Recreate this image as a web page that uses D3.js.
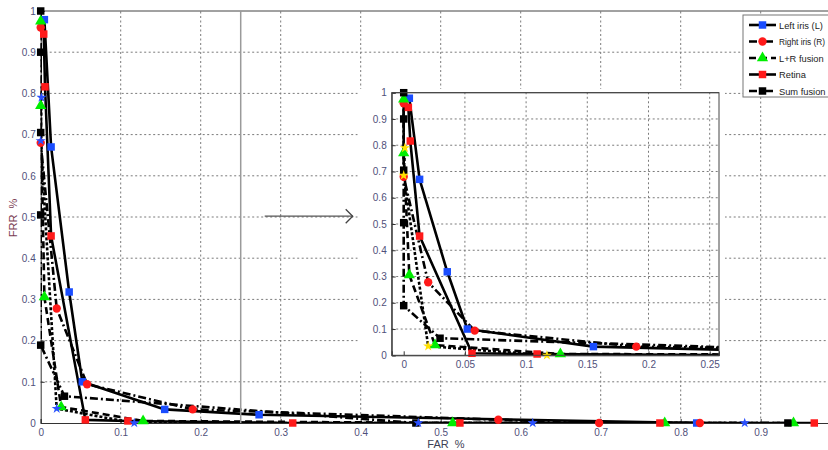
<!DOCTYPE html>
<html>
<head>
<meta charset="utf-8">
<script src="https://cdn.jsdelivr.net/npm/d3@7"></script>
<style>
  body { margin: 0; background: #fff; }
  svg { display: block; font-family: "Liberation Sans", Arial, sans-serif; }
  .tick text { fill: #50507a; }
</style>
</head>
<body>
<svg width="828" height="450"></svg>
<script>
// ---------------------------------------------------------------------------
// Data (FAR, FRR)

const leftIris   = [[0.0046, 0.979], [0.013, 0.67], [0.0356, 0.318], [0.052, 0.10],
                    [0.155, 0.033], [0.273, 0.02], [0.82, 0]];
const rightIris  = [[0.0, 0.96], [0.0, 0.68], [0.02, 0.278], [0.058, 0.094],
                    [0.19, 0.033], [0.572, 0.008], [0.698, 0], [0.824, 0]];
const lrFusion   = [[0.0, 0.975], [0.0, 0.77], [0.0046, 0.306], [0.0256, 0.039],
                    [0.128, 0.005], [0.515, 0], [0.78, 0], [0.941, 0]];
const retina     = [[0.0038, 0.944], [0.0054, 0.816], [0.013, 0.454], [0.0558, 0.0076],
                    [0.109, 0.005], [0.315, 0], [0.524, 0], [0.774, 0], [0.967, 0]];
const sumFusion  = [[0.0, 1.0], [0.0, 0.9], [0.0, 0.705], [0.0, 0.505], [0.0, 0.189],
                    [0.0297, 0.065], [0.469, 0], [0.934, 0]];
// unlabelled extra curve (star markers, not in the legend)
const extraCurve = [[0.001, 0.79], [0.0, 0.685], [0.02, 0.035], [0.117, 0],
                    [0.472, 0], [0.615, 0], [0.88, 0]];

const mainTicksX  = [0, 0.1, 0.2, 0.3, 0.4, 0.5, 0.6, 0.7, 0.8, 0.9];
const mainTicksY  = [0, 0.1, 0.2, 0.3, 0.4, 0.5, 0.6, 0.7, 0.8, 0.9, 1];
const insetTicksX = [0, 0.05, 0.1, 0.15, 0.2, 0.25];
const insetTicksY = [0, 0.1, 0.2, 0.3, 0.4, 0.5, 0.6, 0.7, 0.8, 0.9, 1];

// stray vertical line and arrow pointing at the zoom box (main-axis units)
const markLineX = 0.25;
const arrowPts  = [[0.28, 0.502], [0.39, 0.502]];

const series = [
  {name: "Left iris (L)",  data: leftIris,   marker: d3.symbolSquare,   color: "#1a4dff", dash: null},
  {name: "Right iris (R)", data: rightIris,  marker: d3.symbolCircle,   color: "#ff1a1a", dash: "8,3,2,3"},
  {name: "L+R fusion",     data: lrFusion,   marker: d3.symbolTriangle, color: "#00ee00", dash: "7,4"},
  {name: "Retina",         data: retina,     marker: d3.symbolSquare,   color: "#ff1a1a", dash: null},
  {name: "Sum fusion",     data: sumFusion,  marker: d3.symbolSquare,   color: "#000000", dash: "8,3,2,3"},
  {name: null,             data: extraCurve, marker: d3.symbolStar,     color: "#2a50ff", dash: "3,2", insetColor: "#ffe000"}
];

function symSize(s) {
  if (s === d3.symbolSquare) return 56;
  if (s === d3.symbolCircle) return 55;
  if (s === d3.symbolTriangle) return 55;
  return 32;
}

const svg = d3.select("svg");

// ---------------------------------------------------------------------------
// Panel drawing

function gridAndAxes(g, x, y, ticksX, ticksY, gridX, gridY) {
  const [x0, x1] = x.range(), [y0, y1] = y.range();

  g.append("g").selectAll("line").data(gridX).enter().append("line")
    .attr("x1", d => x(d)).attr("x2", d => x(d)).attr("y1", y0).attr("y2", y1)
    .attr("stroke", "#7a7a7a").attr("stroke-dasharray", "2,2.5");
  g.append("g").selectAll("line").data(gridY).enter().append("line")
    .attr("y1", d => y(d)).attr("y2", d => y(d)).attr("x1", x0).attr("x2", x1)
    .attr("stroke", "#7a7a7a").attr("stroke-dasharray", "2,2.5");

  const ax = g.append("g").attr("transform", `translate(0,${y0})`)
    .call(d3.axisBottom(x).tickValues(ticksX).tickFormat(d3.format("")).tickSize(-4).tickPadding(6));
  const ay = g.append("g").attr("transform", `translate(${x0},0)`)
    .call(d3.axisLeft(y).tickValues(ticksY).tickFormat(d3.format("")).tickSize(-4).tickPadding(5));
  [ax, ay].forEach(a => {
    a.select(".domain").attr("stroke", "#333");
    a.selectAll(".tick line").attr("stroke", "#333");
    a.selectAll(".tick text").attr("font-size", 10);
  });

  g.append("line").attr("x1", x0).attr("x2", x1).attr("y1", y1).attr("y2", y1)
    .attr("stroke", "#444");
}

function drawSeries(g, x, y, clipId, inset) {
  const lines = g.append("g").attr("clip-path", `url(#${clipId})`);
  const line = d3.line().x(d => x(d[0])).y(d => y(d[1]));
  const [dx0, dx1] = x.domain();

  series.forEach(s => {
    lines.append("path")
      .attr("d", line(s.data))
      .attr("fill", "none")
      .attr("stroke", "#000")
      .attr("stroke-width", 2.6)
      .attr("stroke-linejoin", "round")
      .attr("stroke-dasharray", s.dash);
  });

  series.forEach(s => {
    const col = inset && s.insetColor ? s.insetColor : s.color;
    g.append("g").selectAll("path")
      .data(s.data.filter(d => d[0] >= dx0 && d[0] <= dx1))
      .enter().append("path")
      .attr("transform", d => `translate(${x(d[0])},${y(d[1])})`)
      .attr("d", d3.symbol().type(s.marker).size(symSize(s.marker)))
      .attr("fill", col);
  });
}

// ---------------------------------------------------------------------------
// Main plot

const xMain = d3.scaleLinear().domain([0, 1]).range([40.7, 840.7]);
const yMain = d3.scaleLinear().domain([0, 1]).range([423, 11]);

svg.append("defs").append("clipPath").attr("id", "clipMain")
  .append("rect").attr("x", 40.7).attr("y", 11).attr("width", 800).attr("height", 412);

const main = svg.append("g");
gridAndAxes(main, xMain, yMain, mainTicksX, mainTicksY,
            mainTicksX.slice(1), mainTicksY.slice(1, -1));
drawSeries(main, xMain, yMain, "clipMain", false);

main.append("line")
  .attr("x1", xMain(markLineX)).attr("x2", xMain(markLineX))
  .attr("y1", yMain(1)).attr("y2", yMain(0))
  .attr("stroke", "#9a9a9a").attr("stroke-width", 1.5);

const aStart = arrowPts[0], aEnd = arrowPts[1];
const ax1 = xMain(aEnd[0]), ay1 = yMain(aEnd[1]);
main.append("line")
  .attr("x1", xMain(aStart[0])).attr("y1", yMain(aStart[1]))
  .attr("x2", ax1).attr("y2", ay1)
  .attr("stroke", "#555").attr("stroke-width", 1.2);
main.append("path")
  .attr("d", `M${ax1 - 7},${ay1 - 7}L${ax1},${ay1}L${ax1 - 7},${ay1 + 7}`)
  .attr("fill", "none").attr("stroke", "#444").attr("stroke-width", 1.3);

svg.append("text")
  .attr("transform", "translate(17,218) rotate(-90)")
  .attr("text-anchor", "middle")
  .attr("font-size", 11)
  .attr("fill", "#7a3c52")
  .style("white-space", "pre")
  .text("FRR  %");

svg.append("text")
  .attr("x", 446).attr("y", 448)
  .attr("text-anchor", "middle")
  .attr("font-size", 11)
  .attr("fill", "#404055")
  .style("white-space", "pre")
  .text("FAR  %");

// ---------------------------------------------------------------------------
// Zoomed inset

const box = {left: 391.7, right: 719, top: 92.7, bottom: 355.3};
const xIn = d3.scaleLinear().domain([-0.0098, 0.2576]).range([box.left, box.right]);
const yIn = d3.scaleLinear().domain([0, 1]).range([box.bottom, box.top]);

svg.select("defs").append("clipPath").attr("id", "clipInset")
  .append("rect").attr("x", box.left).attr("y", box.top)
  .attr("width", box.right - box.left).attr("height", box.bottom - box.top);

const inset = svg.append("g");
inset.append("rect")
  .attr("x", box.left - 34).attr("y", box.top - 4)
  .attr("width", box.right - box.left + 40).attr("height", box.bottom - box.top + 20)
  .attr("fill", "#fff");

gridAndAxes(inset, xIn, yIn, insetTicksX, insetTicksY,
            insetTicksX.slice(1), insetTicksY.slice(1, -1));
drawSeries(inset, xIn, yIn, "clipInset", true);

inset.append("rect")
  .attr("x", box.left).attr("y", box.top)
  .attr("width", box.right - box.left).attr("height", box.bottom - box.top)
  .attr("fill", "none").attr("stroke", "#444");

// ---------------------------------------------------------------------------
// Legend

const leg = svg.append("g").attr("transform", "translate(743,15)");
leg.append("rect").attr("width", 110).attr("height", 82)
  .attr("fill", "#fff").attr("stroke", "#777");

const labelled = series.filter(s => s.name);
labelled.forEach((s, i) => {
  const cy = 10 + i * 16.5;
  leg.append("line")
    .attr("x1", 6).attr("x2", 33).attr("y1", cy).attr("y2", cy)
    .attr("stroke", "#000").attr("stroke-width", 2.6)
    .attr("stroke-dasharray", s.dash);
  leg.append("path")
    .attr("transform", `translate(19.5,${cy})`)
    .attr("d", d3.symbol().type(s.marker).size(symSize(s.marker)))
    .attr("fill", s.color);
  leg.append("text")
    .attr("x", 36).attr("y", cy + 3.5)
    .attr("font-size", i === 1 ? 8.3 : 9.3)
    .attr("fill", "#222")
    .text(s.name);
});
</script>
</body>
</html>
